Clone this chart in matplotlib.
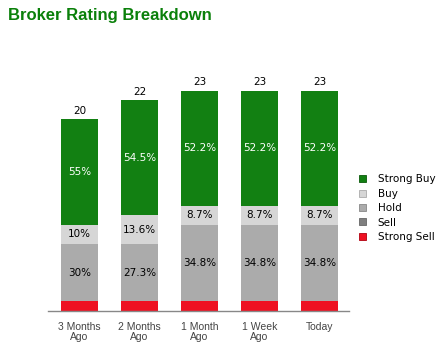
import matplotlib.pyplot as plt
import numpy as np
from matplotlib.patches import Patch

periods = ['3 Months\nAgo', '2 Months\nAgo', '1 Month\nAgo', '1 Week\nAgo', 'Today']
ratings = ['Strong Buy', 'Buy', 'Hold', 'Sell', 'Strong Sell']
strong_buy = [11, 12, 12, 12, 12]
buy = [2, 3, 2, 2, 2]
hold = [6, 6, 8, 8, 8]
sell = [0, 0, 0, 0, 0]
strong_sell = [1, 1, 1, 1, 1]

colors = {'Strong Buy': '#128012', 'Buy': '#d6d6d6', 'Hold': '#ababab',
          'Sell': '#7f7f7f', 'Strong Sell': '#ee1122'}
text_colors = {'Strong Buy': 'white', 'Buy': 'black', 'Hold': 'black'}

fig = plt.figure(figsize=(4.44, 3.54), dpi=100)
ax = fig.add_axes([48/444, 43/354, 301/444, 251/354])

x = np.arange(len(periods))
totals = np.array(strong_buy) + np.array(buy) + np.array(hold) + np.array(sell) + np.array(strong_sell)

# stack from bottom: strong sell, sell, hold, buy, strong buy
stack = [('Strong Sell', strong_sell), ('Sell', sell), ('Hold', hold), ('Buy', buy), ('Strong Buy', strong_buy)]
bottom = np.zeros(len(periods))
for name, vals in stack:
    vals = np.array(vals)
    ax.bar(x, vals, 0.62, bottom=bottom, color=colors[name], linewidth=0)
    if name in text_colors:
        for i, v in enumerate(vals):
            if v > 0:
                pct = v / totals[i] * 100
                lab = ('%.1f' % pct).rstrip('0').rstrip('.') + '%'
                ax.text(x[i], bottom[i] + v / 2, lab, ha='center', va='center',
                        fontsize=7.5, color=text_colors[name])
    bottom = bottom + vals

for i, t in enumerate(totals):
    ax.text(x[i], t + 0.35, str(t), ha='center', va='bottom', fontsize=7.5, color='black')

ax.set_xlim(-0.525, 4.49)
ax.set_ylim(0, 26.2)
ax.set_yticks([])
ax.set_xticks(x)
ax.set_xticklabels(periods, fontsize=7.5, color='#444444', family='Liberation Sans', linespacing=1.0)
ax.tick_params(axis='x', length=0, pad=8)
for s in ['top', 'right', 'left']:
    ax.spines[s].set_visible(False)
ax.spines['bottom'].set_color('#888888')
ax.spines['bottom'].set_linewidth(1)

# legend swatches with a slightly darker edge
edge = {'Strong Buy': '#0a5a0a', 'Buy': '#aaaaaa', 'Hold': '#888888',
        'Sell': '#666666', 'Strong Sell': '#b00010'}
leg_handles = [Patch(facecolor=colors[r], edgecolor=edge[r], linewidth=0.6) for r in ratings]
leg = fig.legend(leg_handles, ratings, loc='upper left',
                 bbox_to_anchor=(350/444, 1 - 165/354), frameon=False, fontsize=7.5,
                 handlelength=0.65, handleheight=0.65, handletextpad=1.1, labelspacing=0.42)

fig.text(8/444, 1 - 8/354, 'Broker Rating Breakdown', fontsize=12, fontweight='bold',
         color='#0a800a', family='Liberation Sans', ha='left', va='top')

fig.savefig('out.png', dpi=100)
